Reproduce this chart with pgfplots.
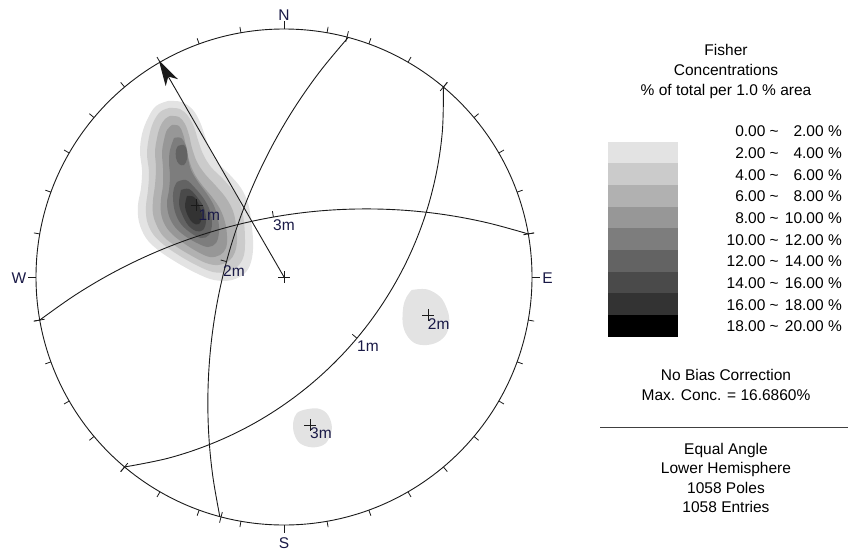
\documentclass[border=0pt]{standalone}
\usepackage{pgfplots}
\pgfplotsset{compat=1.18}
\usepackage{fontspec}
\setmainfont{Liberation Sans}
\usetikzlibrary{arrows.meta}
\definecolor{c1}{HTML}{E3E3E3}
\definecolor{c2}{HTML}{CBCBCB}
\definecolor{c3}{HTML}{B1B1B1}
\definecolor{c4}{HTML}{979797}
\definecolor{c5}{HTML}{7D7D7D}
\definecolor{c6}{HTML}{636363}
\definecolor{c7}{HTML}{4A4A4A}
\definecolor{c8}{HTML}{333333}
\definecolor{c9}{HTML}{000000}
\definecolor{lab}{RGB}{25,25,70}
\definecolor{ln}{HTML}{1A1A1A}
\begin{document}
\begin{tikzpicture}[font=\fontsize{15.5}{18}\selectfont]
\begin{axis}[
  x=1pt, y=1pt, xmin=0, xmax=848, ymin=0, ymax=554, y dir=reverse,
  hide axis, clip=false,
  unitc/.style={x filter/.expression={284+248*x}, y filter/.expression={277-248*y}},
  gc/.style={ln, line width=0.9pt, smooth, tension=0.6},
  cont/.style={draw=none, smooth, tension=0.6},
]
\coordinate (bbA) at (0,554);
\coordinate (bbB) at (848,0);
% ---- density contours (pixel coordinates) ----
\addplot[cont, fill=c1] coordinates {(168,101) (182,102) (193,110) (200,122) (205,136) (210,150) (218,163) (230,175) (241,188) (248,203) (251,220) (253,240) (252,258) (246,272) (232,280) (214,280) (196,273) (176,262) (158,250) (146,238) (139,222) (138,205) (141,188) (142,170) (140,152) (142,134) (148,118) (156,106) (168,101)};
\addplot[cont, fill=c2] coordinates {(169,108) (180,109) (188,116) (194,127) (198,140) (203,154) (211,167) (223,179) (234,192) (241,206) (244,222) (245,240) (244,255) (238,266) (226,272) (213,272) (198,266) (180,256) (164,245) (153,234) (147,221) (146,206) (148,190) (149,172) (147,154) (149,137) (153,123) (160,112) (169,108)};
\addplot[cont, fill=c3] coordinates {(170,116) (179,117) (185,124) (189,135) (192,148) (197,162) (205,174) (216,186) (226,198) (233,211) (236,225) (237,240) (235,252) (229,261) (218,265) (206,263) (192,256) (177,247) (164,237) (157,226) (153,214) (153,200) (155,185) (156,168) (155,152) (157,138) (160,127) (165,119) (170,116)};
\addplot[cont, fill=c4] coordinates {(172,125) (179,126) (183,134) (186,146) (189,160) (194,173) (202,185) (212,197) (220,209) (225,222) (227,236) (226,248) (220,255) (210,257) (198,252) (185,244) (173,235) (165,225) (161,213) (161,199) (163,185) (163,168) (162,153) (164,140) (167,130) (172,125)};
\addplot[cont, fill=c5] coordinates {(174,138) (181,138) (186,146) (188,158) (191,170) (198,182) (207,194) (214,206) (218,219) (219,232) (216,243) (208,247) (197,243) (185,236) (175,227) (169,216) (167,203) (169,190) (170,176) (169,162) (170,150) (174,138)};
\addplot[cont, fill=c6] coordinates {(178,146) (184,145) (187,151) (187,159) (184,165) (179,164) (176,158) (176,150) (178,146)};
\addplot[cont, fill=c6] coordinates {(177,182) (186,180) (195,188) (204,199) (210,211) (212,224) (209,235) (201,238) (191,233) (181,224) (175,212) (173,198) (174,188) (177,182)};
\addplot[cont, fill=c7] coordinates {(181,190) (189,189) (197,197) (204,208) (206,221) (203,230) (196,231) (188,225) (182,214) (179,203) (181,190)};
\addplot[cont, fill=c8] coordinates {(187,196) (194,197) (199,205) (202,216) (199,224) (193,223) (188,216) (185,206) (187,196)};
\addplot[cont, fill=c1] coordinates {(411.7,290) (426.7,289.3) (440,296.7) (446.7,308.3) (449.3,320) (446.7,333.3) (438.3,341.7) (426.7,345) (415,343.3) (406.7,335) (402.7,323.3) (403.3,306.7) (406.7,296.7) (411.7,290)};
\addplot[cont, fill=c1] coordinates {(303.3,410) (316.7,408.3) (326.7,413.3) (331.7,425) (330,436.7) (323.3,445) (311.7,447.3) (300,443.3) (294,433.3) (293.3,421.7) (296.7,413.3) (303.3,410)};
% ---- primitive circle and ticks ----
\draw[ln, line width=0.9pt] (284,277) circle[radius=248pt];
\pgfplotsinvokeforeach{10,20,30,40,50,60,70,80,100,110,120,130,140,150,160,170,190,200,210,220,230,240,250,260,280,290,300,310,320,330,340,350}{
  \draw[ln, line width=0.8pt] ({284+248*sin(#1)},{277-248*cos(#1)}) -- ({284+254*sin(#1)},{277-254*cos(#1)});
}
% great-circle end marks across the primitive
\pgfplotsinvokeforeach{40,220,14.7,194.7,80,260}{
  \draw[ln, line width=0.8pt] ({284+243*sin(#1)},{277-243*cos(#1)}) -- ({284+254*sin(#1)},{277-254*cos(#1)});
}
\draw[ln, line width=0.8pt] (284,29) -- (284,21);
\draw[ln, line width=0.8pt] (284,525) -- (284,533);
\draw[ln, line width=0.8pt] (36,277) -- (28,277);
\draw[ln, line width=0.8pt] (532,277) -- (540,277);
% ---- great circles (unit stereonet coordinates) ----
\addplot[gc, unitc] coordinates {(0.6428,0.7660) (0.6382,0.5836) (0.6110,0.4032) (0.5624,0.2273) (0.4925,0.0586) (0.4026,-0.1000) (0.2941,-0.2468) (0.1684,-0.3792) (0.0277,-0.4952) (-0.1262,-0.5933) (-0.2910,-0.6718) (-0.4640,-0.7298) (-0.6428,-0.7660)};
\addplot[gc, unitc] coordinates {(-0.2588,-0.9659) (-0.2882,-0.7954) (-0.3041,-0.6231) (-0.3063,-0.4501) (-0.2949,-0.2776) (-0.2701,-0.1066) (-0.2319,0.0622) (-0.1805,0.2274) (-0.1165,0.3880) (-0.0401,0.5431) (0.0483,0.6917) (0.1482,0.8330) (0.2588,0.9659)};
\addplot[gc, unitc] coordinates {(-0.9848,-0.1736) (-0.8433,-0.0736) (-0.6943,0.0149) (-0.5388,0.0910) (-0.3777,0.1545) (-0.2119,0.2049) (-0.0426,0.2418) (0.1291,0.2651) (0.3021,0.2743) (0.4752,0.2698) (0.6473,0.2515) (0.8177,0.2192) (0.9848,0.1736)};
% label ticks at great-circle midpoints
\addplot[ln, line width=0.8pt] coordinates {(356.9,338.2) (352.3,334.3)};
\addplot[ln, line width=0.8pt] coordinates {(226.5,261.6) (220.7,260.0)};
\addplot[ln, line width=0.8pt] coordinates {(273.4,217.0) (272.4,211.1)};
% ---- trend arrow ----
\addplot[ln, line width=0.9pt, unitc, -{Stealth[length=26pt, width=14pt, inset=7pt]}] coordinates {(0,0) (-0.505,0.8747)};
% ---- poles ----
\addplot[only marks, mark=+, mark size=6pt, mark options={ln, line width=0.8pt}] coordinates {(284,277) (196.7,205) (428.3,315) (310,425)};
% ---- labels ----
\node[anchor=base west, inner sep=0pt, text=lab] at (198.3,220) {1m};
\node[anchor=base west, inner sep=0pt, text=lab] at (427.7,329) {2m};
\node[anchor=base west, inner sep=0pt, text=lab] at (310,438.5) {3m};
\node[anchor=base west, inner sep=0pt, text=lab] at (273,230) {3m};
\node[anchor=base west, inner sep=0pt, text=lab] at (223,276) {2m};
\node[anchor=base west, inner sep=0pt, text=lab] at (357,351) {1m};
\node[anchor=base, inner sep=0pt, text=lab] at (284,20.7) {N};
\node[anchor=base, inner sep=0pt, text=lab] at (284,548) {S};
\node[anchor=base, inner sep=0pt, text=lab] at (19,283.3) {W};
\node[anchor=base, inner sep=0pt, text=lab] at (547.5,283.3) {E};
% ---- legend ----
\node[anchor=base, inner sep=0pt] at (726,55) {Fisher};
\node[anchor=base, inner sep=0pt] at (726,75) {Concentrations};
\node[anchor=base, inner sep=0pt] at (726,95) {\% of total per 1.0 \% area};
\fill[c1] (608,141.7) rectangle (678,163.3);
\fill[c2] (608,163.3) rectangle (678,185.0);
\fill[c3] (608,185.0) rectangle (678,206.7);
\fill[c4] (608,206.7) rectangle (678,228.3);
\fill[c5] (608,228.3) rectangle (678,250.0);
\fill[c6] (608,250.0) rectangle (678,271.7);
\fill[c7] (608,271.7) rectangle (678,293.3);
\fill[c8] (608,293.3) rectangle (678,315.0);
\fill[c9] (608,315.0) rectangle (678,336.7);
\node[anchor=base east, inner sep=0pt] at (779,136.7) {0.00 \textasciitilde};
\node[anchor=base east, inner sep=0pt] at (842,136.7) {2.00 \%};
\node[anchor=base east, inner sep=0pt] at (779,158.3) {2.00 \textasciitilde};
\node[anchor=base east, inner sep=0pt] at (842,158.3) {4.00 \%};
\node[anchor=base east, inner sep=0pt] at (779,180.0) {4.00 \textasciitilde};
\node[anchor=base east, inner sep=0pt] at (842,180.0) {6.00 \%};
\node[anchor=base east, inner sep=0pt] at (779,201.7) {6.00 \textasciitilde};
\node[anchor=base east, inner sep=0pt] at (842,201.7) {8.00 \%};
\node[anchor=base east, inner sep=0pt] at (779,223.3) {8.00 \textasciitilde};
\node[anchor=base east, inner sep=0pt] at (842,223.3) {10.00 \%};
\node[anchor=base east, inner sep=0pt] at (779,245.0) {10.00 \textasciitilde};
\node[anchor=base east, inner sep=0pt] at (842,245.0) {12.00 \%};
\node[anchor=base east, inner sep=0pt] at (779,266.7) {12.00 \textasciitilde};
\node[anchor=base east, inner sep=0pt] at (842,266.7) {14.00 \%};
\node[anchor=base east, inner sep=0pt] at (779,288.3) {14.00 \textasciitilde};
\node[anchor=base east, inner sep=0pt] at (842,288.3) {16.00 \%};
\node[anchor=base east, inner sep=0pt] at (779,310.0) {16.00 \textasciitilde};
\node[anchor=base east, inner sep=0pt] at (842,310.0) {18.00 \%};
\node[anchor=base east, inner sep=0pt] at (779,331.7) {18.00 \textasciitilde};
\node[anchor=base east, inner sep=0pt] at (842,331.7) {20.00 \%};
\node[anchor=base, inner sep=0pt] at (726,380) {No Bias Correction};
\node[anchor=base, inner sep=0pt] at (726,400) {Max. Conc. = 16.6860\%};
\draw[black!75, line width=1pt] (600,427) -- (848,427);
\node[anchor=base, inner sep=0pt] at (726,454) {Equal Angle};
\node[anchor=base, inner sep=0pt] at (726,473.3) {Lower Hemisphere};
\node[anchor=base, inner sep=0pt] at (726,493.3) {1058 Poles};
\node[anchor=base, inner sep=0pt] at (726,512.7) {1058 Entries};
\end{axis}
\pgfresetboundingbox
\path (bbA) rectangle (bbB);
\end{tikzpicture}
\end{document}
